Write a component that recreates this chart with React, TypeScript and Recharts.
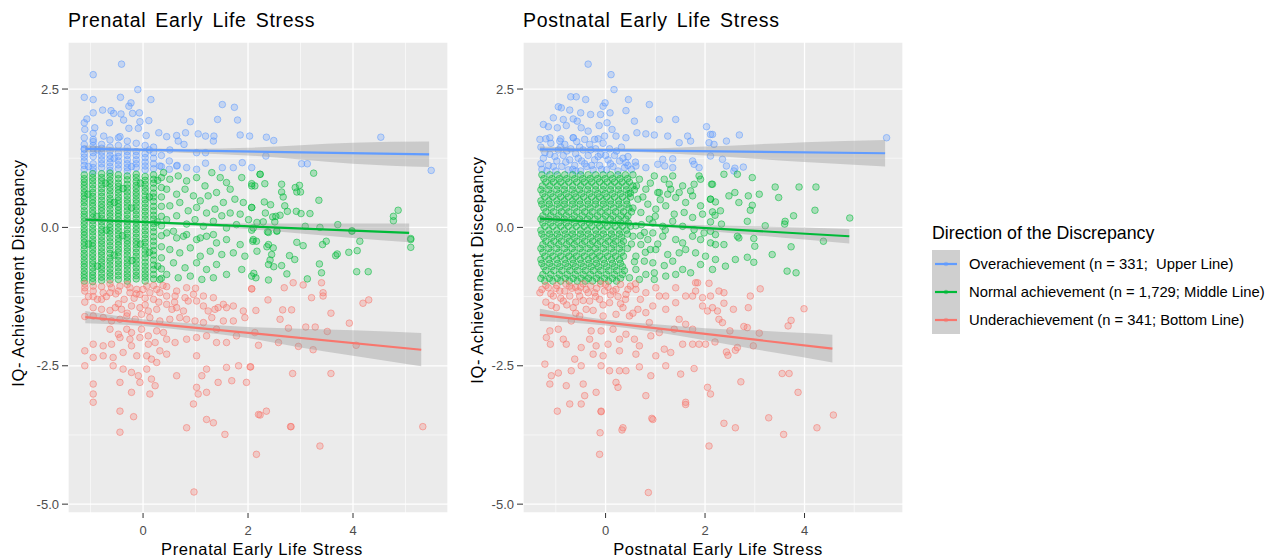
import React from "react";
import { ComposedChart, Scatter, Line, Area, XAxis, YAxis, CartesianGrid } from "recharts";

type Pt = [number, number];

const FONT = '"Liberation Sans", Arial, sans-serif';
const COLORS = { over: "#619CFF", normal: "#00BA38", under: "#F8766D" };

const yTicks = [-5, -2.5, 0, 2.5];
const yMinor = [-3.75, -1.25, 1.25];
const xTicks = [0, 2, 4];
const xMinor = [-1, 1, 3, 5];

const legendTitle = "Direction of the Discrepancy";
const legendLabels = [
  "Overachievement (n = 331;  Upper Line)",
  "Normal achievement (n = 1,729; Middle Line)",
  "Underachievement (n = 341; Bottom Line)",
];

// ---------- Prenatal panel ----------
const prenatalOver: Pt[] = [
  [-0.41, 2.95], [-0.95, 2.76], [-0.1, 2.49], [-1.12, 2.35], [-0.95, 2.31], [-0.43, 2.35], [0.15, 2.31], [-0.23, 2.25],
  [-0.27, 2.19], [1.51, 2.22], [1.74, 2.17], [-0.95, 2.07], [-0.77, 2.12], [-0.61, 2.11], [-0.56, 2.06], [-0.42, 2.05],
  [-0.37, 1.94], [-0.2, 2.06], [-0.07, 2.07], [-0.06, 1.91], [0.11, 1.93], [-0.64, 1.89], [-1.12, 1.89], [-1.07, 1.96],
  [0.9, 1.91], [1.42, 1.95], [1.8, 1.94], [-0.27, 1.79], [-0.09, 1.79], [-1.11, 1.77], [-0.92, 1.8], [0.3, 1.71],
  [0.81, 1.71], [1.05, 1.69], [1.19, 1.65], [1.35, 1.65], [1.85, 1.67], [2.03, 1.65], [0.45, 1.64], [0.64, 1.66],
  [0.06, 1.66], [-0.44, 1.64], [-0.75, 1.65], [-0.95, 1.59], [0.67, 1.56], [1.34, 1.56], [0.78, 1.5], [-1.12, 1.41],
  [0.51, 1.4], [1.02, 1.35], [1.19, 1.35], [0.83, 1.08], [1.02, 1.05], [1.19, 1.16], [1.51, 1.08], [1.72, 1.08],
  [1.89, 1.17], [2.07, 1.08], [0.64, 1.11], [0.32, 1.11], [2.35, 1.63], [2.49, 1.57], [2.34, 1.29], [4.53, 1.63],
  [3.02, 1.15], [3.13, 1.15], [5.49, 1.03],
  [-1.12, 1.05], [-1.12, 1.2], [-1.12, 1.33], [-1.12, 1.5], [-1.12, 1.62], [-0.95, 1.02], [-0.95, 1.15], [-0.95, 1.28],
  [-0.95, 1.42], [-0.95, 1.55], [-0.95, 1.7], [-0.79, 1.08], [-0.79, 1.22], [-0.79, 1.36], [-0.79, 1.5], [-0.63, 1.03],
  [-0.63, 1.17], [-0.63, 1.3], [-0.63, 1.45], [-0.63, 1.58], [-0.47, 1.06], [-0.47, 1.2], [-0.47, 1.35], [-0.47, 1.48],
  [-0.47, 1.62], [-0.3, 1.02], [-0.3, 1.15], [-0.3, 1.3], [-0.3, 1.44], [-0.3, 1.56], [-0.13, 1.08], [-0.13, 1.22],
  [-0.13, 1.37], [-0.13, 1.52], [0.04, 1.04], [0.04, 1.18], [0.04, 1.33], [0.04, 1.48], [0.2, 1.06], [0.2, 1.25],
  [0.2, 1.45], [0.35, 1.1], [0.35, 1.3], [0.5, 1.05], [0.5, 1.2], [0.65, 1.12], [-1.04, 1.1], [-0.87, 1.4],
  [-0.55, 1.25], [-0.22, 1.1], [0.12, 1.4],
  [-1.12, 1.12], [-1.12, 1.27], [-1.12, 1.42], [-0.95, 1.08], [-0.95, 1.35], [-0.95, 1.48], [-0.79, 1.15], [-0.79, 1.29],
  [-0.79, 1.43], [-0.63, 1.1], [-0.63, 1.24], [-0.63, 1.38], [-0.47, 1.13], [-0.47, 1.28], [-0.3, 1.08], [-0.3, 1.22],
  [-0.3, 1.37], [-0.13, 1.15], [-0.13, 1.3], [0.04, 1.11], [0.04, 1.26], [0.2, 1.15], [0.2, 1.35],
];

// dense stripes of the prenatal score: [x, y values]
const prenatalNormalCore: [number, number[]][] = [
  [-1.12, [0.95, 0.82, 0.7, 0.57, 0.45, 0.3, 0.18, 0.05, -0.08, -0.2, -0.33, -0.47, -0.6, -0.72, -0.85, -0.97]],
  [-0.96, [0.9, 0.77, 0.63, 0.5, 0.38, 0.25, 0.12, -0.02, -0.15, -0.28, -0.4, -0.53, -0.66, -0.8, -0.92]],
  [-0.79, [0.97, 0.84, 0.7, 0.56, 0.42, 0.3, 0.16, 0.03, -0.1, -0.24, -0.37, -0.5, -0.63, -0.76, -0.9]],
  [-0.63, [0.92, 0.79, 0.66, 0.52, 0.4, 0.26, 0.13, 0, -0.12, -0.26, -0.4, -0.55, -0.68, -0.82, -0.95]],
  [-0.47, [0.95, 0.8, 0.68, 0.55, 0.43, 0.31, 0.2, 0.07, -0.06, -0.2, -0.32, -0.45, -0.6, -0.73, -0.87]],
  [-0.3, [0.93, 0.78, 0.64, 0.5, 0.37, 0.23, 0.1, -0.04, -0.18, -0.3, -0.43, -0.57, -0.7, -0.84, -0.97]],
  [-0.13, [0.96, 0.83, 0.7, 0.57, 0.44, 0.3, 0.16, 0.02, -0.11, -0.25, -0.38, -0.52, -0.66, -0.8, -0.93]],
  [0.04, [0.92, 0.78, 0.65, 0.5, 0.36, 0.22, 0.08, -0.06, -0.2, -0.34, -0.48, -0.63, -0.77, -0.9]],
  [0.2, [0.95, 0.8, 0.62, 0.47, 0.3, 0.15, 0, -0.17, -0.33, -0.5, -0.68, -0.85]],
  [0.35, [0.9, 0.72, 0.55, 0.38, 0.2, 0.03, -0.15, -0.35, -0.55, -0.75, -0.92]],
];
const prenatalNormalCore2: [number, number[]][] = [
  [-1.12, [0.88, 0.76, 0.63, 0.51, 0.38, 0.24, 0.11, -0.02, -0.14, -0.27, -0.4, -0.53, -0.66, -0.79, -0.91]],
  [-0.96, [0.97, 0.84, 0.7, 0.56, 0.44, 0.31, 0.18, 0.05, -0.08, -0.22, -0.34, -0.47, -0.6, -0.73, -0.86, -0.98]],
  [-0.79, [0.9, 0.77, 0.63, 0.49, 0.36, 0.23, 0.1, -0.04, -0.17, -0.3, -0.44, -0.57, -0.7, -0.83, -0.96]],
  [-0.63, [0.98, 0.85, 0.72, 0.59, 0.46, 0.33, 0.2, 0.06, -0.06, -0.19, -0.33, -0.47, -0.61, -0.75, -0.88]],
  [-0.47, [0.88, 0.74, 0.62, 0.49, 0.37, 0.25, 0.13, 0.0, -0.13, -0.26, -0.39, -0.52, -0.66, -0.8, -0.94]],
  [-0.3, [0.86, 0.71, 0.57, 0.44, 0.3, 0.16, 0.03, -0.11, -0.24, -0.37, -0.5, -0.64, -0.77, -0.9]],
  [-0.13, [0.9, 0.76, 0.63, 0.5, 0.37, 0.23, 0.09, -0.04, -0.18, -0.31, -0.45, -0.59, -0.73, -0.87]],
  [0.04, [0.85, 0.71, 0.57, 0.43, 0.29, 0.15, 0.01, -0.13, -0.27, -0.41, -0.55, -0.7, -0.84, -0.97]],
  [0.2, [0.87, 0.71, 0.55, 0.38, 0.22, 0.07, -0.08, -0.25, -0.42, -0.59, -0.76, -0.93]],
];

const prenatalNormal: Pt[] = [
  [-1.05, 0.6], [-1.04, -0.3], [-0.88, 0.2], [-0.87, -0.7], [-0.71, 0.8], [-0.7, -0.05], [-0.55, 0.45], [-0.55, -0.5],
  [-0.38, 0.7], [-0.39, -0.15], [-0.22, 0.35], [-0.21, -0.6], [-0.05, 0.8], [-0.05, -0.3], [0.12, 0.55], [0.12, -0.45],
  [0.28, 0.85], [0.27, 0.1], [0.28, -0.7],
  [0.39, 0.99], [0.51, 0.87], [0.67, 0.93], [0.83, 0.84], [1.02, 0.9], [1.18, 0.75], [1.31, 0.99], [1.47, 0.9],
  [1.59, 0.81], [1.66, 0.69], [1.88, 0.9], [2.07, 0.75], [2.23, 0.96], [0.45, 0.69], [0.64, 0.6], [0.8, 0.69],
  [0.96, 0.57], [1.09, 0.48], [1.24, 0.57], [1.4, 0.63], [1.53, 0.45], [1.75, 0.51], [1.91, 0.45], [2.07, 0.36],
  [0.51, 0.39], [0.7, 0.45], [0.86, 0.3], [1.02, 0.36], [1.21, 0.26], [1.37, 0.33], [1.5, 0.21], [1.66, 0.26],
  [1.85, 0.24], [2.01, 0.14], [0.45, 0.14], [0.64, 0.21], [0.83, 0.06], [0.99, 0.14], [1.15, 0.02], [1.34, 0.11],
  [1.59, -0.01], [1.78, 0.05], [2.1, -0.01], [0.58, -0.07], [0.77, -0.16], [1.09, -0.19], [1.34, -0.13],
  [0.45, -0.1], [0.64, -0.19], [0.83, -0.13], [1.02, -0.22], [1.21, -0.16], [1.4, -0.28], [1.59, -0.22], [1.85, -0.31],
  [2.1, -0.22], [0.51, -0.4], [0.7, -0.46], [0.9, -0.37], [1.09, -0.52], [1.28, -0.43], [1.5, -0.49], [1.72, -0.46],
  [1.94, -0.52], [0.58, -0.64], [0.8, -0.73], [1.02, -0.64], [1.21, -0.76], [1.4, -0.67], [1.59, -0.85], [1.88, -0.76],
  [0.45, -0.85], [0.67, -0.91], [0.9, -0.88], [1.12, -0.94], [1.34, -0.91], [2.07, -0.88], [0.32, -0.94],
  [2.23, 0.96], [2.32, 0.79], [2.07, 0.79], [2.13, 0.75], [2.64, 0.78], [2.9, 0.72], [2.98, 0.76], [2.64, 0.64],
  [2.67, 0.55], [2.93, 0.64], [3.0, 0.64], [3.25, 0.98], [2.31, 0.46], [2.43, 0.41], [2.07, 0.36], [2.7, 0.39],
  [2.75, 0.29], [2.92, 0.29], [3.01, 0.25], [3.18, 0.25], [3.35, 0.49], [2.33, 0.26], [2.47, 0.19], [2.53, 0.2],
  [2.61, 0.22], [2.29, 0.1], [2.17, 0.09], [2.51, 0.1], [2.07, -0.05], [2.37, -0.08], [2.55, -0.06], [3.09, 0.02],
  [3.37, 0.0], [3.71, 0.05], [3.98, -0.06], [4.77, 0.2], [4.86, 0.31], [4.77, 0.12], [5.1, -0.2],
  [2.09, -0.25], [2.16, -0.25], [2.39, -0.09], [2.55, -0.07], [2.39, -0.31], [2.36, -0.35], [2.48, -0.37], [2.17, -0.43],
  [2.45, -0.49], [2.42, -0.59], [2.39, -0.67], [2.49, -0.71], [2.64, -0.69], [2.79, -0.51], [2.89, -0.58], [2.93, -0.27],
  [3.05, -0.33], [2.11, -0.83], [2.15, -0.91], [2.39, -0.95], [2.74, -0.84], [3.13, -0.93], [3.36, -0.66], [3.4, -0.82],
  [3.42, -0.31], [3.49, -0.25], [3.67, -0.51], [3.7, -0.48], [3.92, -0.45], [4.08, -0.42], [4.13, -0.25], [4.07, -0.8],
  [4.29, -0.8], [5.1, -0.22], [5.1, -0.36], [3.98, -0.07],
];

const prenatalUnder: Pt[] = [
  [-1.11, -1.09], [-1.11, -1.15], [-0.95, -1.06], [-0.95, -1.15], [-0.79, -1.07], [-0.76, -1.18], [-0.6, -1.09], [-0.63, -1.18],
  [-0.44, -1.06], [-0.25, -1.09], [-0.25, -1.18], [-0.12, -1.12], [0.07, -1.06], [0.26, -1.12], [0.45, -1.07], [0.64, -1.15],
  [0.83, -1.09], [-0.06, -1.21], [0.13, -1.18], [0.32, -1.18], [0.45, -1.24], [0.61, -1.24], [0.8, -1.27], [0.96, -1.21],
  [1.02, -1.33], [1.15, -1.24], [1.34, -1.27], [1.53, -1.39], [1.59, -1.45], [1.72, -1.42], [1.91, -1.51], [2.07, -1.11],
  [-0.95, -1.45], [-0.79, -1.48], [-0.53, -1.45], [-0.41, -1.48], [-0.22, -1.42], [-0.06, -1.45], [0.1, -1.51], [0.26, -1.48],
  [0.45, -1.39], [0.55, -1.48], [0.64, -1.45], [0.77, -1.51], [0.86, -1.33], [1.15, -1.42], [1.24, -1.51], [1.37, -1.48],
  [1.43, -1.45], [-1.11, -1.61], [-0.95, -1.6], [-0.76, -1.63], [-0.6, -1.69], [-0.44, -1.66], [-0.31, -1.6], [-0.15, -1.66],
  [-0.03, -1.57], [0.13, -1.63], [0.32, -1.69], [0.51, -1.66], [0.7, -1.63], [0.83, -1.66], [0.99, -1.69], [1.15, -1.72],
  [1.31, -1.63], [1.4, -1.84], [1.53, -1.69], [1.72, -1.69], [1.94, -1.63], [-0.63, -1.84], [-0.47, -1.93], [-0.31, -1.84],
  [-0.22, -1.9], [-0.03, -1.84], [0.1, -1.96], [0.26, -1.87], [0.39, -1.9], [0.45, -2.02], [0.61, -2.08], [0.83, -2.02],
  [1.02, -1.99], [1.21, -1.96], [1.4, -2.08], [1.59, -2.08], [1.78, -1.96], [2.13, -1.9], [-0.95, -2.11], [-0.76, -2.14],
  [-0.6, -2.11], [-0.44, -1.99], [-0.25, -2.02], [-0.06, -1.99], [0.1, -2.11], [0.23, -2.08], [0.32, -2.23], [0.45, -2.29],
  [-1.11, -2.23], [-0.76, -2.32], [-0.57, -2.35], [-0.38, -2.26], [-0.22, -2.14], [-0.12, -2.32], [0.07, -2.32], [0.16, -2.38],
  [1.02, -2.32], [-1.11, -2.5], [-0.95, -2.35], [-0.57, -2.5], [-0.38, -2.56], [-0.22, -2.62], [-0.09, -2.68], [0.07, -2.56],
  [0.16, -2.74], [0.26, -2.44], [0.64, -2.68], [1.12, -2.68], [1.21, -2.56], [1.59, -2.53], [1.82, -2.5], [2.04, -2.52],
  [-0.95, -2.83], [-0.44, -2.8], [-0.06, -2.8], [0.23, -2.86], [1.02, -2.89], [1.05, -3.01], [1.21, -2.98], [1.43, -2.8],
  [1.69, -2.77], [1.97, -2.8], [-0.95, -3.01], [-0.95, -3.16], [-0.22, -2.98], [0.13, -3.01], [-0.44, -3.32], [0.96, -3.19],
  [1.21, -3.47], [1.34, -3.53], [0.83, -3.62], [2.2, -3.38], [-0.18, -3.42], [-0.44, -3.7], [1.56, -3.74], [2.16, -4.1],
  [0.97, -4.78], [2.35, -3.32], [2.81, -3.6], [3.37, -3.95], [5.33, -3.6],
  [-1.04, -1.25], [-0.87, -1.3], [-0.7, -1.25], [-0.52, -1.2], [-0.36, -1.3], [-0.17, -1.28], [0.0, -1.12], [0.2, -1.3],
  [0.38, -1.05], [-1.11, -1.02], [-0.95, -1.25], [-0.79, -1.3], [-0.63, -1.02], [-0.47, -1.15], [-0.3, -1.03], [-0.13, -1.2],
  [0.04, -1.28], [0.2, -1.05], [-1.11, -1.35], [-0.47, -1.38], [0.04, -1.4], [-0.63, -1.5], [-0.3, -1.55], [0.3, -1.35],
  [0.6, -1.35], [1.0, -1.1],
  [2.07, -1.11], [2.69, -1.09], [2.86, -1.0], [3.05, -1.04], [3.4, -1.0], [3.43, -1.18], [3.43, -1.24], [3.21, -1.27],
  [2.38, -1.31], [2.15, -1.5], [2.66, -1.49], [2.83, -1.49], [2.61, -1.66], [2.77, -1.82], [3.1, -1.8], [3.28, -1.8],
  [3.51, -1.88], [3.58, -1.55], [3.93, -1.73], [4.19, -1.37], [4.3, -1.31], [2.2, -2.13], [2.58, -2.08], [2.96, -2.15],
  [3.24, -2.21], [4.06, -2.13], [2.05, -2.52], [2.85, -2.64], [3.58, -2.64], [2.23, -3.39], [2.82, -3.6],
];

const prenatalOverLine: Pt[] = [[-1.1, 1.42], [5.45, 1.32]];
const prenatalNormalLine: Pt[] = [[-1.1, 0.14], [5.07, -0.1]];
const prenatalUnderLine: Pt[] = [[-1.1, -1.62], [5.3, -2.21]];
// confidence bands: [x, lower, upper]
const prenatalOverBand: [number, number, number][] = [
  [-1.1, 1.36, 1.48], [0, 1.37, 1.43], [1, 1.34, 1.42], [2, 1.3, 1.44], [3, 1.225, 1.485], [4, 1.15, 1.53], [5.45, 1.09, 1.55],
];
const prenatalNormalBand: [number, number, number][] = [
  [-1.1, 0.1, 0.18], [0, 0.08, 0.12], [1, 0.03, 0.09], [2, -0.03, 0.07], [3, -0.11, 0.07], [4, -0.19, 0.07], [5.07, -0.27, 0.07],
];
const prenatalUnderBand: [number, number, number][] = [
  [-1.1, -1.73, -1.51], [0, -1.78, -1.66], [1, -1.88, -1.74], [2, -2.0, -1.8], [3, -2.17, -1.83], [4, -2.32, -1.86], [5.3, -2.51, -1.91],
];

// ---------- Postnatal panel ----------
const postnatalOver: Pt[] = [
  [-0.35, 2.95], [0.11, 2.76], [0.17, 2.49], [-0.7, 2.36], [-0.59, 2.36], [-0.4, 2.31], [-0.01, 2.25], [-0.05, 2.19],
  [0.46, 2.31], [0.88, 2.22], [-0.95, 2.18], [-0.89, 2.16], [-0.72, 2.12], [-0.5, 2.07], [-0.3, 2.04], [-0.1, 2.04],
  [0.09, 2.07], [0.41, 2.11], [-1.05, 1.98], [-0.85, 1.95], [-0.65, 1.96], [-0.57, 1.92], [0.03, 1.89], [-0.13, 1.84],
  [0.58, 1.92], [1.08, 1.95], [1.41, 1.95], [-1.25, 1.86], [-1.15, 1.82], [-0.97, 1.8], [-0.79, 1.84], [-0.49, 1.8],
  [-0.35, 1.74], [0.13, 1.77], [0.63, 1.71], [0.81, 1.69], [0.98, 1.67], [1.25, 1.65], [1.65, 1.65], [2.03, 1.82],
  [2.11, 1.68], [-1.32, 1.59], [-1.12, 1.62], [-0.92, 1.56], [-0.65, 1.62], [-0.42, 1.59], [-0.22, 1.59], [-0.02, 1.65],
  [0.21, 1.65], [0.41, 1.62], [1.48, 1.53], [1.71, 1.56], [2.08, 1.53], [2.11, 1.29], [1.15, 1.23], [1.35, 1.24],
  [1.05, 1.14], [1.19, 1.11], [1.35, 1.08], [1.75, 1.2], [1.88, 1.08], [1.78, 1.14], [0.41, 1.17], [0.61, 1.11],
  [0.81, 1.08], [2.15, 1.68], [2.43, 1.56], [2.69, 1.67], [2.18, 1.5], [2.35, 1.23], [2.43, 1.11], [2.6, 1.07],
  [2.58, 1.02], [2.77, 1.09], [5.65, 1.62],
  [-1.28, 1.05], [-1.25, 1.25], [-1.3, 1.45], [-1.15, 1.12], [-1.12, 1.32], [-1.1, 1.52], [-1.0, 1.02], [-0.98, 1.2],
  [-0.95, 1.4], [-0.88, 1.1], [-0.85, 1.3], [-0.82, 1.5], [-0.75, 1.04], [-0.72, 1.22], [-0.7, 1.42], [-0.62, 1.12],
  [-0.6, 1.33], [-0.58, 1.55], [-0.5, 1.02], [-0.48, 1.2], [-0.45, 1.4], [-0.38, 1.1], [-0.35, 1.3], [-0.32, 1.5],
  [-0.25, 1.04], [-0.22, 1.22], [-0.2, 1.42], [-0.12, 1.12], [-0.1, 1.32], [-0.05, 1.52], [0.02, 1.04], [0.05, 1.22],
  [0.08, 1.42], [0.15, 1.1], [0.18, 1.3], [0.25, 1.02], [0.28, 1.2], [0.32, 1.45], [0.38, 1.08], [0.45, 1.28],
  [0.52, 1.05], [0.6, 1.18], [-1.2, 1.6], [-0.9, 1.6], [-0.65, 1.62], [-0.15, 1.6],
  [-1.3, 1.15], [-1.22, 1.35], [-1.05, 1.1], [-1.02, 1.28], [-0.9, 1.45], [-0.8, 1.18], [-0.78, 1.38], [-0.66, 1.05],
  [-0.55, 1.25], [-0.52, 1.45], [-0.42, 1.15], [-0.3, 1.4], [-0.28, 1.12], [-0.15, 1.28], [-0.08, 1.05], [0.0, 1.3],
  [0.1, 1.15], [0.22, 1.38], [0.35, 1.25], [0.45, 1.12], [-1.18, 1.02], [-0.6, 1.02],
];

// dense block of the postnatal score: [y, x values]
const postnatalNormalCore: [number, number[]][] = [
  [0.95, [-1.28, -1.12, -0.97, -0.82, -0.66, -0.5, -0.35, -0.2, -0.05, 0.1, 0.25, 0.4, 0.55]],
  [0.82, [-1.2, -1.05, -0.9, -0.74, -0.58, -0.43, -0.28, -0.12, 0.03, 0.18, 0.33, 0.48]],
  [0.68, [-1.3, -1.14, -0.98, -0.83, -0.67, -0.52, -0.36, -0.2, -0.05, 0.1, 0.26, 0.42, 0.58]],
  [0.55, [-1.22, -1.06, -0.9, -0.75, -0.6, -0.44, -0.28, -0.13, 0.02, 0.18, 0.34, 0.5]],
  [0.42, [-1.28, -1.13, -0.97, -0.82, -0.66, -0.51, -0.35, -0.2, -0.04, 0.11, 0.27, 0.43]],
  [0.28, [-1.2, -1.05, -0.89, -0.74, -0.58, -0.42, -0.27, -0.11, 0.04, 0.2, 0.36, 0.52]],
  [0.15, [-1.3, -1.14, -0.98, -0.83, -0.67, -0.52, -0.36, -0.21, -0.05, 0.1, 0.26, 0.41]],
  [0.02, [-1.22, -1.06, -0.9, -0.75, -0.59, -0.43, -0.28, -0.12, 0.03, 0.19, 0.34, 0.5]],
  [-0.12, [-1.28, -1.12, -0.97, -0.81, -0.66, -0.5, -0.35, -0.19, -0.04, 0.12, 0.28, 0.44]],
  [-0.25, [-1.2, -1.04, -0.89, -0.73, -0.58, -0.42, -0.26, -0.11, 0.05, 0.2, 0.36]],
  [-0.38, [-1.3, -1.14, -0.98, -0.82, -0.67, -0.51, -0.35, -0.2, -0.04, 0.12, 0.28, 0.44]],
  [-0.52, [-1.22, -1.06, -0.9, -0.74, -0.59, -0.43, -0.27, -0.12, 0.04, 0.2, 0.36]],
  [-0.65, [-1.28, -1.12, -0.96, -0.8, -0.65, -0.49, -0.33, -0.18, -0.02, 0.14, 0.3]],
  [-0.78, [-1.2, -1.04, -0.88, -0.72, -0.57, -0.41, -0.25, -0.1, 0.06, 0.22, 0.38]],
  [-0.92, [-1.3, -1.13, -0.97, -0.81, -0.65, -0.49, -0.34, -0.18, -0.02, 0.14, 0.3]],
];
const postnatalNormalCore2: [number, number[]][] = [
  [0.88, [-1.24, -1.08, -0.93, -0.78, -0.62, -0.46, -0.31, -0.16, -0.01, 0.14, 0.29, 0.44]],
  [0.75, [-1.27, -1.12, -0.97, -0.82, -0.66, -0.5, -0.35, -0.2, -0.04, 0.11, 0.26, 0.41, 0.55]],
  [0.61, [-1.26, -1.1, -0.94, -0.79, -0.63, -0.48, -0.32, -0.16, -0.01, 0.14, 0.3, 0.46]],
  [0.48, [-1.3, -1.14, -0.98, -0.83, -0.67, -0.52, -0.36, -0.2, -0.05, 0.1, 0.26, 0.42]],
  [0.35, [-1.24, -1.09, -0.93, -0.78, -0.62, -0.46, -0.31, -0.15, 0.0, 0.16, 0.31, 0.47]],
  [0.21, [-1.26, -1.1, -0.94, -0.79, -0.63, -0.47, -0.32, -0.16, 0.0, 0.15, 0.31, 0.45]],
  [0.08, [-1.26, -1.1, -0.94, -0.79, -0.63, -0.48, -0.32, -0.16, -0.01, 0.15, 0.3, 0.46]],
  [-0.05, [-1.3, -1.14, -0.98, -0.83, -0.67, -0.51, -0.36, -0.2, -0.05, 0.11, 0.27, 0.42]],
  [-0.18, [-1.24, -1.08, -0.93, -0.77, -0.62, -0.46, -0.3, -0.15, 0.01, 0.16, 0.32]],
  [-0.31, [-1.26, -1.1, -0.94, -0.78, -0.63, -0.47, -0.31, -0.16, 0.0, 0.16, 0.32]],
  [-0.45, [-1.26, -1.1, -0.94, -0.78, -0.63, -0.47, -0.31, -0.16, 0.0, 0.16, 0.32]],
  [-0.58, [-1.3, -1.14, -0.98, -0.82, -0.66, -0.51, -0.35, -0.19, -0.04, 0.12, 0.28]],
  [-0.71, [-1.24, -1.08, -0.92, -0.76, -0.61, -0.45, -0.29, -0.14, 0.02, 0.18, 0.34]],
  [-0.85, [-1.26, -1.1, -0.93, -0.77, -0.61, -0.45, -0.3, -0.14, 0.02, 0.18, 0.34]],
  [-0.97, [-1.22, -1.06, -0.9, -0.73, -0.57, -0.41, -0.26, -0.1, 0.06, 0.22]],
];

const postnatalNormal: Pt[] = [
  [0.98, 0.93], [1.18, 0.87], [1.35, 0.93], [1.55, 0.75], [1.71, 0.66], [1.88, 0.93], [2.15, 0.78], [1.08, 0.63],
  [1.31, 0.69], [1.41, 0.54], [1.61, 0.45], [1.75, 0.57], [1.91, 0.39], [2.11, 0.51], [1.01, 0.33], [1.21, 0.39],
  [1.38, 0.24], [1.58, 0.27], [1.75, 0.18], [1.95, 0.24], [2.11, 0.1], [0.95, 0.08], [1.15, 0.02], [1.35, 0.11],
  [1.55, 0.02], [1.78, -0.04], [1.98, -0.1], [0.68, 0.87], [0.81, 0.69], [0.65, 0.51], [0.85, 0.42], [0.71, 0.27],
  [0.88, 0.15], [0.61, 0.03], [0.78, -0.09], [0.55, -0.16], [0.71, -0.31], [0.85, -0.22], [0.61, -0.52], [0.78, -0.61],
  [0.61, -0.76], [0.81, -0.85], [0.48, -0.91], [0.68, -0.94],
  [0.62, 0.75], [0.75, 0.55], [0.9, 0.8], [0.55, 0.35], [0.72, 0.05], [0.9, -0.4], [0.7, -0.15], [1.05, -0.3],
  [0.8, -0.45], [0.58, -0.62], [1.1, 0.5], [1.0, 0.2], [1.25, 0.6], [1.2, -0.05], [0.5, 0.62], [0.52, -0.3],
  [2.38, 0.96], [2.65, 0.96], [2.95, 0.9], [2.13, 0.78], [3.41, 0.73], [3.89, 0.73], [4.23, 0.73], [2.6, 0.63],
  [2.48, 0.57], [2.87, 0.57], [3.09, 0.6], [3.48, 0.54], [2.11, 0.51], [2.21, 0.46], [2.68, 0.45], [2.95, 0.4],
  [2.91, 0.31], [2.31, 0.3], [2.15, 0.28], [2.2, 0.22], [4.21, 0.31], [3.78, 0.21], [3.61, 0.11], [4.91, 0.17],
  [2.33, 0.06], [2.85, 0.11], [3.21, 0.03], [3.6, 0.06], [2.11, -0.07], [2.21, -0.13], [2.65, -0.16], [2.98, -0.2],
  [1.05, 0.63], [1.28, 0.78], [1.48, 0.63], [1.78, 0.78], [1.91, 0.87], [4.38, -0.25], [3.73, -0.35], [3.35, -0.49],
  [2.85, -0.54], [2.61, -0.58], [2.41, -0.7], [3.65, -0.79], [3.83, -0.82], [2.98, -0.63], [2.68, -0.19], [3.0, -0.34],
  [2.38, -0.31], [2.21, -0.31],
  [0.95, -0.1], [1.15, -0.16], [1.41, -0.22], [1.55, -0.28], [1.75, -0.16], [1.91, -0.22], [2.11, -0.28], [1.01, -0.4],
  [1.25, -0.49], [1.48, -0.46], [1.61, -0.4], [1.81, -0.46], [2.01, -0.52], [2.21, -0.58], [0.95, -0.64], [1.18, -0.69],
  [1.35, -0.61], [1.55, -0.76], [1.71, -0.82], [1.91, -0.67], [2.15, -0.76], [0.98, -0.82], [1.21, -0.88], [1.41, -0.85],
  [0.98, -0.94],
];

const postnatalUnder: Pt[] = [
  [-1.32, -1.18], [-1.15, -1.09], [-1.05, -1.24], [-1.09, -1.41], [-1.12, -1.87], [-1.19, -1.99], [-1.11, -2.11], [-0.95, -1.84],
  [-0.85, -2.02], [-0.79, -2.11], [-0.99, -1.45], [-0.85, -1.33], [-0.65, -1.45], [-0.69, -1.69], [-0.52, -1.6], [-0.39, -1.48],
  [-0.29, -1.87], [-0.32, -2.02], [-0.49, -2.17], [-0.19, -2.14], [-0.25, -2.29], [-0.05, -2.32], [0.05, -2.11], [0.28, -2.02],
  [0.41, -1.93], [0.58, -2.02], [0.68, -2.14], [0.61, -2.29], [1.01, -2.32], [1.18, -2.2], [1.31, -2.26], [1.55, -2.11],
  [1.75, -2.11], [1.88, -2.11], [1.95, -1.42], [2.05, -1.51], [2.11, -1.24], [1.81, -1.15], [1.61, -1.24], [1.41, -1.36],
  [1.21, -1.48], [1.08, -1.24], [0.95, -1.42], [0.81, -1.54], [0.65, -1.48], [0.48, -1.6], [0.35, -1.45], [0.21, -1.57],
  [0.08, -1.36], [-0.05, -1.6], [-0.12, -1.3], [0.21, -1.12], [0.41, -1.21], [0.61, -1.12], [0.81, -1.18], [1.01, -1.09],
  [1.21, -1.24], [1.41, -1.09], [1.85, -1.0], [1.48, -1.66], [1.61, -1.75], [1.75, -1.84], [1.38, -1.84], [1.08, -1.9],
  [0.91, -1.96], [0.88, -1.72], [0.15, -1.84], [-0.09, -1.87], [0.28, -2.23], [-0.72, -1.06], [-0.55, -1.15], [-0.39, -1.12],
  [-0.22, -1.18], [-0.02, -1.15], [-0.52, -1.24], [-0.32, -1.33], [-0.92, -1.15], [-0.72, -1.24], [-1.22, -2.47], [-1.09, -2.68],
  [-1.12, -2.83], [-0.95, -2.63], [-0.79, -2.86], [-0.69, -2.59], [-0.49, -2.5], [-0.62, -2.38], [-0.45, -2.83], [-0.42, -3.04],
  [-0.72, -3.19], [-0.49, -3.19], [-0.97, -3.32], [-0.19, -2.98], [-0.09, -2.5], [0.08, -2.59], [0.21, -2.8], [0.25, -2.89],
  [0.28, -2.59], [0.41, -2.59], [-0.09, -3.32], [0.35, -3.62], [0.81, -3.04], [0.68, -2.52], [0.91, -2.68], [1.21, -2.5],
  [1.51, -2.65], [1.61, -3.16], [0.95, -3.47], [2.05, -2.89], [2.11, -3.01],
  [-1.2, -1.05], [-1.0, -1.1], [-0.8, -1.02], [-0.6, -1.08], [-0.45, -1.02], [-0.3, -1.06], [-0.1, -1.02], [0.05, -1.08],
  [0.3, -1.03], [0.5, -1.06], [-0.9, -1.28], [-0.6, -1.35], [-0.2, -1.25], [0.1, -1.22], [0.4, -1.3],
  [-1.28, -1.12], [-1.1, -1.2], [-0.98, -1.05], [-0.82, -1.15], [-0.68, -1.1], [-0.5, -1.08], [-0.35, -1.18], [-0.18, -1.1],
  [0.0, -1.03], [0.15, -1.15], [0.25, -1.25], [0.45, -1.12], [0.6, -1.02], [-1.2, -1.35], [-0.78, -1.4], [-0.45, -1.32],
  [-0.05, -1.4], [0.3, -1.38], [0.7, -1.3], [-0.6, -1.55], [-0.25, -1.5], [0.55, -1.55],
  [0.86, -4.79], [-0.12, -4.1], [-0.11, -3.71], [0.33, -3.66], [-0.09, -3.33], [0.93, -3.45], [1.61, -3.2], [2.08, -3.95],
  [2.38, -3.54], [2.61, -3.62], [3.28, -3.44], [3.58, -3.74], [4.25, -3.62], [4.58, -3.39], [3.87, -2.98], [3.55, -2.64],
  [3.69, -2.64], [2.72, -2.79], [1.78, -2.55], [2.43, -2.25], [2.46, -2.31], [2.61, -2.22], [2.97, -2.14], [2.85, -1.81],
  [2.78, -1.79], [3.09, -1.91], [3.67, -1.78], [3.73, -1.68], [3.99, -1.47], [2.5, -1.87], [2.2, -2.07], [2.01, -2.11],
  [2.35, -1.72], [2.28, -1.66], [2.25, -1.51], [2.15, -1.45], [2.38, -1.37], [2.57, -1.48], [2.87, -1.45], [2.91, -1.24],
  [3.11, -1.11], [2.28, -1.15], [2.38, -1.18], [2.08, -1.01], [1.81, -1.0], [1.75, -1.24], [1.95, -1.27], [2.65, -2.17],
];

const postnatalOverLine: Pt[] = [[-1.32, 1.41], [5.62, 1.34]];
const postnatalNormalLine: Pt[] = [[-1.32, 0.16], [4.9, -0.16]];
const postnatalUnderLine: Pt[] = [[-1.32, -1.58], [4.56, -2.19]];
const postnatalOverBand: [number, number, number][] = [
  [-1.32, 1.36, 1.46], [0, 1.37, 1.43], [1, 1.35, 1.43], [2, 1.3, 1.46], [3, 1.24, 1.5], [4, 1.18, 1.54], [5.62, 1.1, 1.58],
];
const postnatalNormalBand: [number, number, number][] = [
  [-1.32, 0.12, 0.2], [0, 0.07, 0.11], [1, 0.01, 0.07], [2, -0.06, 0.04], [3, -0.14, 0.02], [4, -0.22, 0.0], [4.9, -0.29, -0.03],
];
const postnatalUnderBand: [number, number, number][] = [
  [-1.32, -1.69, -1.47], [0, -1.77, -1.67], [1, -1.89, -1.75], [2, -2.04, -1.82], [3, -2.2, -1.86], [4, -2.35, -1.91], [4.56, -2.44, -1.94],
];

const toXY = (pts: Pt[]) => pts.map(([x, y]) => ({ x, y }));
const toBand = (b: [number, number, number][]) => b.map(([x, lo, hi]) => ({ x, band: [lo, hi] }));
const fromColumns = (cols: [number, number[]][]) => cols.flatMap(([x, ys]) => ys.map((y) => ({ x, y })));
const fromRows = (rows: [number, number[]][]) => rows.flatMap(([y, xs]) => xs.map((x) => ({ x, y })));

const dot = (color: string) => (props: any) => (
  <circle
    cx={props.cx}
    cy={props.cy}
    r={3.3}
    fill={color}
    fillOpacity={0.28}
    stroke={color}
    strokeOpacity={0.55}
    strokeWidth={1}
  />
);

const scaleOf = (axis: any) => (v: number) => {
  const s = axis?.scale;
  if (!s) return 0;
  return typeof s === "function" ? s(v) : s.map(v);
};

type Group = { points: { x: number; y: number }[]; line: Pt[]; band: [number, number, number][]; color: string };

function Panel({ groups, xDomain }: { groups: Group[]; xDomain: [number, number] }) {
  const tickStyle = { fill: "#4D4D4D", fontSize: 13, fontFamily: FONT };
  return (
    <ComposedChart width={460} height={560} margin={{ top: 42, right: 12, bottom: 17, left: 28 }}>
      <CartesianGrid fill="#EBEBEB" stroke="#FFFFFF" strokeWidth={1.3} />
      <CartesianGrid
        fill="none"
        stroke="#FFFFFF"
        strokeWidth={0.6}
        horizontalCoordinatesGenerator={({ yAxis }: any) => yMinor.map(scaleOf(yAxis))}
        verticalCoordinatesGenerator={({ xAxis }: any) => xMinor.map(scaleOf(xAxis))}
      />
      <XAxis
        type="number"
        dataKey="x"
        domain={xDomain}
        ticks={xTicks}
        allowDataOverflow
        interval={0}
        axisLine={false}
        tickLine={{ stroke: "#333333" }}
        tickSize={5}
        tickMargin={8}
        height={30}
        tick={tickStyle}
      />
      <YAxis
        type="number"
        dataKey="y"
        domain={[-5.16, 3.35]}
        ticks={yTicks}
        allowDataOverflow
        interval={0}
        axisLine={false}
        tickLine={{ stroke: "#333333" }}
        tickSize={6}
        tickMargin={3}
        width={40}
        tick={tickStyle}
        tickFormatter={(v: number) => v.toFixed(1)}
      />
      {groups.map((g, i) => (
        <Scatter key={"s" + i} data={g.points} fill={g.color} shape={dot(g.color)} isAnimationActive={false} />
      ))}
      {groups.map((g, i) => (
        <Area
          key={"a" + i}
          data={toBand(g.band)}
          dataKey="band"
          type="monotone"
          stroke="none"
          fill="#999999"
          fillOpacity={0.4}
          isAnimationActive={false}
          zIndex={700}
        />
      ))}
      {groups.map((g, i) => (
        <Line
          key={"l" + i}
          data={toXY(g.line)}
          dataKey="y"
          type="linear"
          stroke={g.color}
          strokeWidth={2.2}
          dot={false}
          isAnimationActive={false}
          zIndex={800}
        />
      ))}
    </ComposedChart>
  );
}

const prenatalGroups: Group[] = [
  { points: toXY(prenatalOver), line: prenatalOverLine, band: prenatalOverBand, color: COLORS.over },
  {
    points: [...fromColumns(prenatalNormalCore), ...fromColumns(prenatalNormalCore2), ...toXY(prenatalNormal)],
    line: prenatalNormalLine,
    band: prenatalNormalBand,
    color: COLORS.normal,
  },
  { points: toXY(prenatalUnder), line: prenatalUnderLine, band: prenatalUnderBand, color: COLORS.under },
];

const postnatalGroups: Group[] = [
  { points: toXY(postnatalOver), line: postnatalOverLine, band: postnatalOverBand, color: COLORS.over },
  {
    points: [...fromRows(postnatalNormalCore), ...fromRows(postnatalNormalCore2), ...toXY(postnatalNormal)],
    line: postnatalNormalLine,
    band: postnatalNormalBand,
    color: COLORS.normal,
  },
  { points: toXY(postnatalUnder), line: postnatalUnderLine, band: postnatalUnderBand, color: COLORS.under },
];

const abs = (extra: React.CSSProperties): React.CSSProperties => ({
  position: "absolute",
  fontFamily: FONT,
  whiteSpace: "pre",
  ...extra,
});

export default function App() {
  const legendColors = [COLORS.over, COLORS.normal, COLORS.under];
  return (
    <div style={{ position: "absolute", left: 0, top: 0, width: 1277, height: 560, background: "#fff", overflow: "hidden" }}>
      <div style={abs({ left: 0, top: 0 })}>
        <Panel groups={prenatalGroups} xDomain={[-1.43, 5.81]} />
      </div>
      <div style={abs({ left: 455, top: 0 })}>
        <Panel groups={postnatalGroups} xDomain={[-1.66, 5.98]} />
      </div>

      <div style={abs({ left: 68, top: 9, fontSize: 19.5, letterSpacing: 0.7, wordSpacing: 3, color: "#000" })}>
        Prenatal Early Life Stress
      </div>
      <div style={abs({ left: 523, top: 9, fontSize: 19.5, letterSpacing: 0.7, wordSpacing: 3, color: "#000" })}>
        Postnatal Early Life Stress
      </div>

      <div style={abs({ left: 262, top: 549, transform: "translate(-50%,-50%)", fontSize: 16.5, letterSpacing: 0.6 })}>
        Prenatal Early Life Stress
      </div>
      <div style={abs({ left: 718, top: 549, transform: "translate(-50%,-50%)", fontSize: 16.5, letterSpacing: 0.6 })}>
        Postnatal Early Life Stress
      </div>

      <div style={abs({ left: 18, top: 273, transform: "translate(-50%,-50%) rotate(-90deg)", fontSize: 16.5, letterSpacing: 0.6 })}>
        IQ- Achievement Discepancy
      </div>
      <div style={abs({ left: 477, top: 270, transform: "translate(-50%,-50%) rotate(-90deg)", fontSize: 16.5, letterSpacing: 0.6 })}>
        IQ- Achievement Discepancy
      </div>

      <div style={abs({ left: 932, top: 222, fontSize: 17.8, lineHeight: "22px" })}>{legendTitle}</div>
      {legendLabels.map((label, i) => (
        <React.Fragment key={label}>
          <svg style={{ position: "absolute", left: 932, top: 250 + i * 28 }} width={28} height={28}>
            <rect x={0} y={0} width={28} height={28} fill="#CFCFCF" />
            <line x1={3} x2={25} y1={14} y2={14} stroke={legendColors[i]} strokeWidth={2.2} />
            <circle cx={14} cy={14} r={2.2} fill={legendColors[i]} fillOpacity={0.5} />
          </svg>
          <div style={abs({ left: 969, top: 250 + i * 28, height: 28, lineHeight: "28px", fontSize: 14.8, color: "#000" })}>
            {label}
          </div>
        </React.Fragment>
      ))}
    </div>
  );
}
